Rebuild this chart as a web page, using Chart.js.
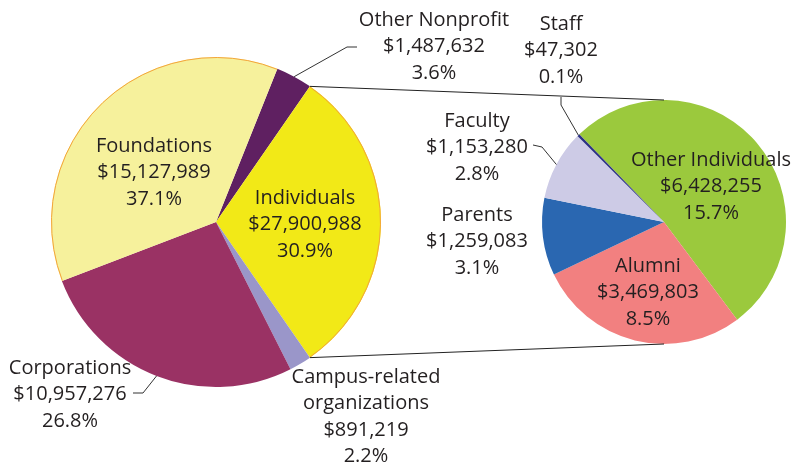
<!DOCTYPE html>
<html>
<head>
<meta charset="utf-8">
<script src="https://cdn.jsdelivr.net/npm/chart.js@4.4.1/dist/chart.umd.min.js"></script>
<style>
  body { margin: 0; background: #fff; }
  .wrap { position: relative; width: 792px; height: 468px; }
  .wrap canvas { position: absolute; left: 0; top: 0; }
</style>
</head>
<body>
<div class="wrap">
  <canvas id="main-chart" width="792" height="468"></canvas>
  <canvas id="indiv-chart" width="792" height="468"></canvas>
</div>
<script>
// Gift sources (main pie), clockwise from the top
const mainLabels = ['Other Nonprofit', 'Individuals', 'Campus-related organizations', 'Corporations', 'Foundations'];
const mainAmounts = [1487632, 27900988, 891219, 10957276, 15127989];
const mainShares = [3.6, 30.9, 2.2, 26.8, 37.1];
const mainColors = ['#5f2061', '#f2e917', '#9a96c9', '#9a3264', '#f6f19c'];

// Breakdown of the Individuals slice (second pie)
const indivLabels = ['Other Individuals', 'Alumni', 'Parents', 'Faculty', 'Staff'];
const indivAmounts = [6428255, 3469803, 1259083, 1153280, 47302];
const indivShares = [15.7, 8.5, 3.1, 2.8, 0.1];
const indivColors = ['#9bc93d', '#f28080', '#2a67b1', '#cdcbe6', '#2b3183'];

const FONT = '20px "Open Sans", "DejaVu Sans", sans-serif';
const LINE_H = 26.5;
const TEXT_COLOR = '#231f20';

// label text block centres, plus optional leader elbows
const mainLabelPos = [
  { x: 434, y: 20, lines: ['Other Nonprofit'], leader: [[347, 47], [357, 47]] },
  { x: 305, y: 198 },
  { x: 366, y: 377, lines: ['Campus-related', 'organizations'] },
  { x: 70, y: 368, leader: [[143, 393], [133, 393]] },
  { x: 154, y: 146 }
];
const indivLabelPos = [
  { x: 711, y: 160 },
  { x: 648, y: 266 },
  { x: 477, y: 215 },
  { x: 477, y: 121, leader: [[542, 147], [533, 145]] },
  { x: 561, y: 24, leader: [[561, 105], [561, 97]] }
];

const fmtMoney = v => '$' + v.toLocaleString('en-US');
const sum = arr => arr.reduce((a, b) => a + b, 0);

function drawLabels(chart, labels, amounts, shares, positions) {
  const ctx = chart.ctx;
  const arcs = chart.getDatasetMeta(0).data;
  ctx.save();
  ctx.font = FONT;
  ctx.fillStyle = TEXT_COLOR;
  ctx.textAlign = 'center';
  ctx.textBaseline = 'middle';
  labels.forEach((name, i) => {
    const p = positions[i];
    const lines = (p.lines || [name]).concat([fmtMoney(amounts[i]), shares[i].toFixed(1) + '%']);
    lines.forEach((t, k) => ctx.fillText(t, p.x, p.y + k * LINE_H));
    if (p.leader) {
      const a = arcs[i];
      const mid = (a.startAngle + a.endAngle) / 2;
      ctx.beginPath();
      ctx.strokeStyle = '#333';
      ctx.lineWidth = 1;
      ctx.moveTo(a.x + Math.cos(mid) * a.outerRadius, a.y + Math.sin(mid) * a.outerRadius);
      p.leader.forEach(pt => ctx.lineTo(pt[0], pt[1]));
      ctx.stroke();
    }
  });
  ctx.restore();
}

// thin orange rim on the two yellow slices
const rimPlugin = {
  id: 'rim',
  afterDatasetsDraw(chart) {
    const ctx = chart.ctx;
    const arcs = chart.getDatasetMeta(0).data;
    ctx.save();
    ctx.strokeStyle = '#f3a43a';
    ctx.lineWidth = 1;
    [1, 4].forEach(i => {
      const a = arcs[i];
      ctx.beginPath();
      ctx.arc(a.x, a.y, a.outerRadius - 0.5, a.startAngle, a.endAngle);
      ctx.stroke();
    });
    ctx.restore();
  }
};

const mainLabelPlugin = {
  id: 'mainLabels',
  afterDraw(chart) {
    drawLabels(chart, mainLabels, mainAmounts, mainShares, mainLabelPos);
  }
};

// rotate so the Individuals slice faces the second pie
const mainRotation = 90 - (mainShares[0] + mainShares[1] / 2) / sum(mainShares) * 360;

const mainChart = new Chart(document.getElementById('main-chart'), {
  type: 'pie',
  data: {
    labels: mainLabels,
    datasets: [{
      data: mainShares,
      backgroundColor: mainColors,
      borderWidth: 0
    }]
  },
  options: {
    responsive: false,
    animation: false,
    rotation: mainRotation,
    layout: { padding: { left: 51, right: 411, top: 57, bottom: 81 } },
    plugins: { legend: { display: false }, tooltip: { enabled: false } }
  },
  plugins: [rimPlugin, mainLabelPlugin]
});

// lines joining the Individuals slice to the top and bottom of the second pie
const connectorPlugin = {
  id: 'connectors',
  afterDraw(chart) {
    const ctx = chart.ctx;
    const src = mainChart.getDatasetMeta(0).data[1];
    const dst = chart.getDatasetMeta(0).data[0];
    const r = dst.outerRadius;
    ctx.save();
    ctx.strokeStyle = '#222';
    ctx.lineWidth = 1;
    ctx.beginPath();
    ctx.moveTo(src.x + Math.cos(src.startAngle) * src.outerRadius, src.y + Math.sin(src.startAngle) * src.outerRadius);
    ctx.lineTo(dst.x, dst.y - r);
    ctx.moveTo(src.x + Math.cos(src.endAngle) * src.outerRadius, src.y + Math.sin(src.endAngle) * src.outerRadius);
    ctx.lineTo(dst.x, dst.y + r);
    ctx.stroke();
    ctx.restore();
    drawLabels(chart, indivLabels, indivAmounts, indivShares, indivLabelPos);
  }
};

const indivChart = new Chart(document.getElementById('indiv-chart'), {
  type: 'pie',
  data: {
    labels: indivLabels,
    datasets: [{
      data: indivShares,
      backgroundColor: indivColors,
      borderWidth: 0
    }]
  },
  options: {
    responsive: false,
    animation: false,
    rotation: -44,
    layout: { padding: { left: 542, right: 6, top: 100, bottom: 124 } },
    plugins: { legend: { display: false }, tooltip: { enabled: false } }
  },
  plugins: [connectorPlugin]
});
</script>
</body>
</html>
